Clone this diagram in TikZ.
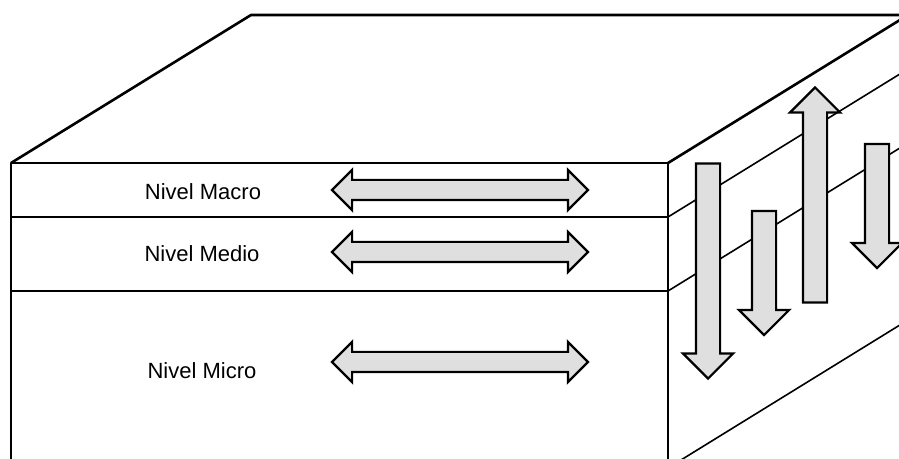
\documentclass[tikz,border=0pt]{standalone}
\usepackage{fontspec}
\setmainfont{Liberation Sans}
\usetikzlibrary{shapes.arrows}

\begin{document}
\begin{tikzpicture}[
        x=0.5pt, y=-0.5pt,
        edge/.style={line width=1.3pt, line join=round},
        layer/.style={line width=1pt},
        side/.style={line width=0.8pt},
        level/.style={font=\fontsize{11}{13}\selectfont},
        flow/.style={double arrow, draw, fill=gray!25, line width=1.1pt, inner xsep=0pt,
            inner ysep=4.5pt, minimum height=128pt, double arrow head extend=5pt},
        long/.style={single arrow, draw, fill=gray!25, line width=1.1pt, inner xsep=0pt,
            inner ysep=5.5pt, minimum height=107.5pt, single arrow head extend=6.5pt},
        short/.style={long, minimum height=62pt}
    ]
        \useasboundingbox (0,0) rectangle (899,459);
        \clip (0,0) rectangle (899,459);

        % Block corners
        \coordinate (ftl) at (11,163);
        \coordinate (ftr) at (668,163);
        \coordinate (fbl) at (11,468);
        \coordinate (fbr) at (668,468);
        \coordinate (btl) at (251,15);
        \coordinate (btr) at (908,15);
        \coordinate (bbr) at (908,320);

        % Top face
        \draw[edge] (ftl) -- (btl) -- (btr) -- (ftr);

        % Front face
        \draw[edge] (fbl) -- (ftl) -- (ftr) -- (fbr);
        \draw[layer] (11,217) -- (668,217);
        \draw[layer] (11,291) -- (668,291);

        % Side face
        \draw[side] (668,217) -- (908,69);
        \draw[side] (668,291) -- (908,143);
        \draw[side] (fbr) -- (bbr);

        % Levels
        \node[level] (macro) at (203,192) {Nivel Macro};
        \node[level] (medio) at (202,254) {Nivel Medio};
        \node[level] (micro) at (202,371) {Nivel Micro};

        \node[flow] (fmacro) at (460,190) {};
        \node[flow] (fmedio) at (460,252) {};
        \node[flow] (fmicro) at (460,362) {};

        % Vertical flows (node centre sits in the shaft, not mid-length)
        \node[long, rotate=-90] (v1) at (708,265) {};
        \node[short, rotate=-90] (v2) at (764,267) {};
        \node[long, rotate=90] (v3) at (815,201) {};
        \node[short, rotate=-90] (v4) at (877,200) {};
    \end{tikzpicture}
\end{document}
